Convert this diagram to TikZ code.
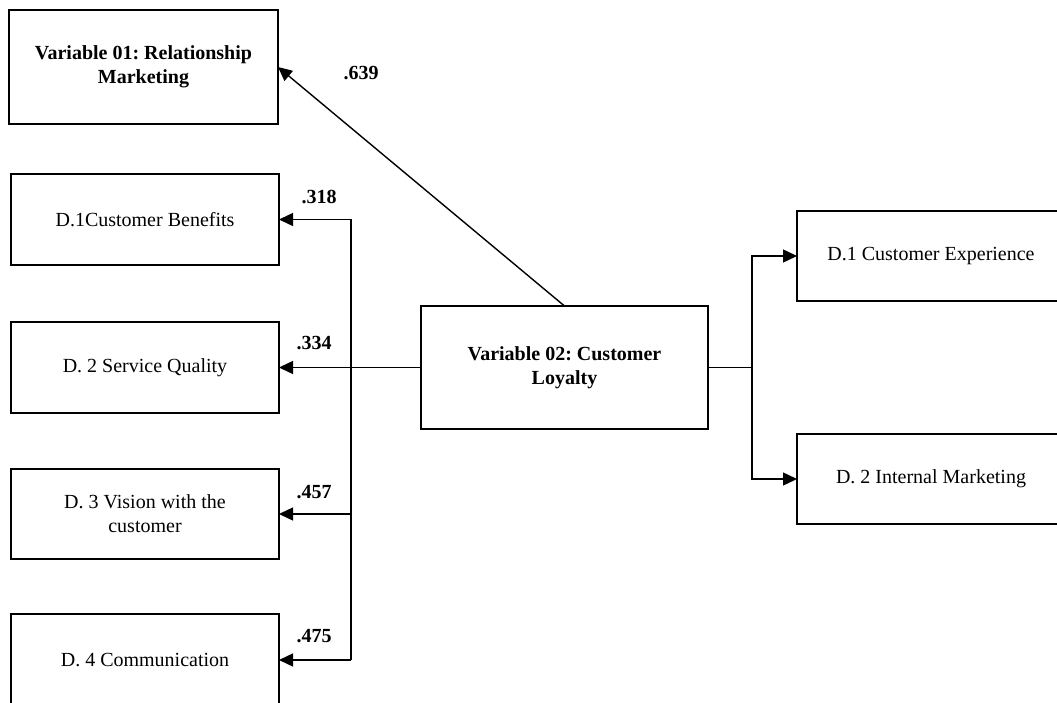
\documentclass[tikz,border=0pt]{standalone}
\usepackage{fontspec}
\setmainfont{Liberation Serif}
\usetikzlibrary{arrows.meta}
\frenchspacing
\begin{document}
\begin{tikzpicture}[x=1pt,y=-1pt,
  box/.style={draw, line width=2.2pt, inner sep=0pt, outer sep=0pt, align=center, minimum width=268pt, font=\fontsize{20}{24}\selectfont},
  bbox/.style={box, font=\bfseries\fontsize{20}{24}\selectfont},
  conn/.style={line width=1.4pt},
  arr/.style={conn, -{Triangle[length=14pt,width=13pt]}},
  wt/.style={inner sep=0pt, font=\bfseries\fontsize{20}{24}\selectfont}]
\useasboundingbox (0,0) rectangle (1057,703);
\node[bbox, minimum width=269pt, minimum height=114pt] (v1) at (143.5,67) {Variable 01: Relationship\\Marketing};
\node[box, minimum height=91pt] (d1) at (145,219.5) {D.1Customer Benefits};
\node[box, minimum height=91pt] (d2) at (145,367.5) {D. 2 Service Quality};
\node[box, minimum height=90pt] (d3) at (145,514) {D. 3 Vision with the\\customer};
\node[box, minimum height=92pt] (d4) at (145,660) {D. 4 Communication};
\node[bbox, minimum width=287pt, minimum height=123pt] (v2) at (564.5,367.5) {Variable 02: Customer\\Loyalty};
\node[box, minimum height=90pt] (e1) at (931,256) {D.1 Customer Experience};
\node[box, minimum height=90pt] (e2) at (931,479) {D. 2 Internal Marketing};
\coordinate (tr) at (351,219.5);
\coordinate (bt) at (351,660);
\coordinate (rj) at (752,367.5);
\draw[conn] (tr) -- (bt);
\draw[arr] (tr) -- (d1.east);
\draw[arr] (v2.west) -- (d2.east);
\draw[arr] (d3.east -| tr) -- (d3.east);
\draw[arr] (bt) -- (d4.east);
\draw[arr] (v2.north) -- (v1.east);
\draw[conn] (v2.east) -- (rj);
\draw[arr] (rj) |- (e1.west);
\draw[arr] (rj) |- (e2.west);
\node[wt] (l639) at (361,73) {.639};
\node[wt] (l318) at (319,197) {.318};
\node[wt] (l334) at (314,343) {.334};
\node[wt] (l457) at (314,492) {.457};
\node[wt] (l475) at (314,636) {.475};
\end{tikzpicture}
\end{document}
